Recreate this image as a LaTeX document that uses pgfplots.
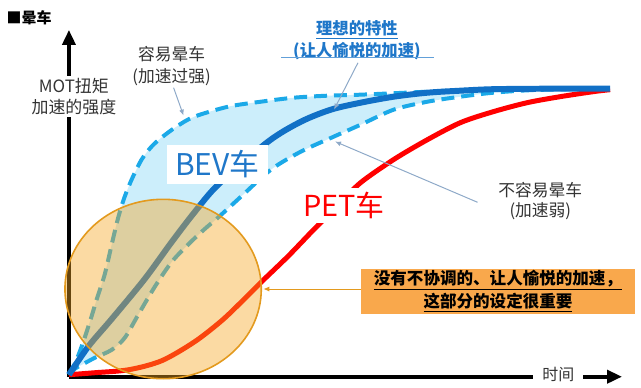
\documentclass[border=0pt]{standalone}
\usepackage{fontspec}
\setmainfont{Noto Sans CJK SC}
\usepackage{pgfplots}
\pgfplotsset{compat=1.18}
\usepgfplotslibrary{fillbetween}
\usetikzlibrary{arrows.meta}
\definecolor{darkblue}{HTML}{1170C6}
\definecolor{dashblue}{HTML}{1BA9E8}
\definecolor{lightfill}{HTML}{CCEEFB}
\definecolor{pred}{HTML}{FF0000}
\definecolor{ellfill}{HTML}{F5A623}
\definecolor{elledge}{HTML}{E39A1E}
\definecolor{boxorange}{HTML}{F9A84C}
\definecolor{annot}{HTML}{8EA9C8}
\definecolor{bevblue}{HTML}{1F77C9}
\definecolor{txtgray}{HTML}{333333}
\begin{document}
\begin{tikzpicture}
\begin{axis}[
  scale only axis, width=277.5pt, height=174pt,
  xmin=0, xmax=555, ymin=0, ymax=348,
  axis x line=bottom, axis y line=left,
  xtick=\empty, ytick=\empty,
  axis line style={line width=1.8pt, black},
  x axis line style={-{Triangle[length=7.5pt,width=6.5pt]}},
  y axis line style={-{Triangle[length=7.5pt,width=6.5pt]}},
  clip=false,
]
\path (axis cs:-67,-11) rectangle (axis cs:574,378);

% upper dashed (easy to get carsick)
\addplot[name path=upper, dashblue, line width=2pt, dash pattern=on 6.5pt off 3.5pt, smooth, tension=0.5] coordinates {
(0,2) (6,13) (13,31) (21,55) (28,78) (36,103) (43,133) (49,158) (55,178) (63,198) (73,218) (83,231) (93,240) (108,251) (126,261) (160,271) (193,276) (226,280) (260,282) (293,283) (360,286) (426,289) (463,289)
};
% lower dashed (not easy to get carsick)
\addplot[name path=lower, dashblue, line width=2pt, dash pattern=on 6.5pt off 3.5pt, smooth, tension=0.5] coordinates {
(0,2) (6,8) (13,12) (26,19) (43,27) (56,39) (70,63) (86,90) (103,115) (120,133) (136,148) (150,160) (173,181) (203,208) (233,226) (266,241) (293,253) (326,268) (360,276) (393,281) (426,285) (463,287.5) (503,288.5)
};
\addplot[lightfill] fill between[of=upper and lower];

% PET
\addplot[pred, line width=2.5pt, smooth, tension=0.5] coordinates {
(0,2) (26,4) (60,7) (93,16) (126,35) (153,56) (173,75) (193,95) (220,121) (246,148) (273,175) (293,195) (326,218) (360,238) (393,255) (426,266) (460,275) (493,281) (526,286) (543,288)
};
% BEV ideal
\addplot[darkblue, line width=3pt, smooth, tension=0.5] coordinates {
(0,2) (20,31) (43,58) (76,98) (103,135) (126,165) (150,193) (200,236) (233,256) (263,268) (293,275) (326,281) (360,285) (393,287) (426,288.5) (483,289) (543,289)
};

% ellipse highlight
\draw[draw=elledge, line width=0.8pt, fill=ellfill, fill opacity=0.42] (axis cs:94.5,88) ellipse [x radius=49.25pt, y radius=45pt];

% labels
\node[font=\bfseries\fontsize{7.5}{9}\selectfont, anchor=center] at (axis cs:-40,360) {■晕车};
\node[fill=white, inner sep=1pt, align=center, text=txtgray, font=\fontsize{8.5}{10.5}\selectfont] at (axis cs:5,281) {MOT扭矩\\加速的强度};
\node[fill=white, inner xsep=4.5pt, inner ysep=1pt, text=txtgray, font=\fontsize{8}{10}\selectfont] at (axis cs:491,2) {时间};

\node[align=center, text=txtgray, font=\fontsize{8.4}{11}\selectfont] at (axis cs:103,312) {容易晕车\\(加速过强)};
\draw[annot, line width=0.5pt, -{Latex[length=3pt,width=2.5pt]}] (axis cs:105,290) -- (axis cs:115,262);

\node[fill=white, inner xsep=4pt, inner ysep=3pt, text=bevblue, font=\fontsize{15}{17}\selectfont] at (axis cs:149,213) {BEV车};
\node[fill=white, inner xsep=3pt, inner ysep=2pt, text=pred, font=\fontsize{14.5}{17}\selectfont] at (axis cs:276,172) {PET车};

\node[align=center, text=bevblue, font=\bfseries\fontsize{8.2}{9.5}\selectfont] at (axis cs:289,338) {\underline{理想的特性}\\(让人愉悦的加速)};
\draw[color=bevblue!70, line width=0.5pt] (axis cs:213,320) -- (axis cs:366,320);
\draw[annot, line width=0.5pt, -{Latex[length=3pt,width=2.5pt]}] (axis cs:290,315) -- (axis cs:266,268);

\node[align=center, text=txtgray, font=\fontsize{8.4}{10}\selectfont] at (axis cs:473,176) {不容易晕车\\(加速弱)};
\draw[annot, line width=0.5pt, -{Latex[length=3pt,width=2.5pt]}] (axis cs:410,175) -- (axis cs:267,236);

\draw[elledge, line width=0.5pt, -{Latex[length=3pt,width=2.5pt]}] (axis cs:293,88) -- (axis cs:195,88);
\node[fill=boxorange, minimum width=137.5pt, minimum height=22.5pt, inner sep=0pt, align=center, font=\bfseries\fontsize{8.3}{9.3}\selectfont] at (axis cs:430.5,85.5) {\underline{没有不协调的、让人愉悦的加速，}\\\underline{这部分的设定很重要}};
\end{axis}
\end{tikzpicture}
\end{document}
